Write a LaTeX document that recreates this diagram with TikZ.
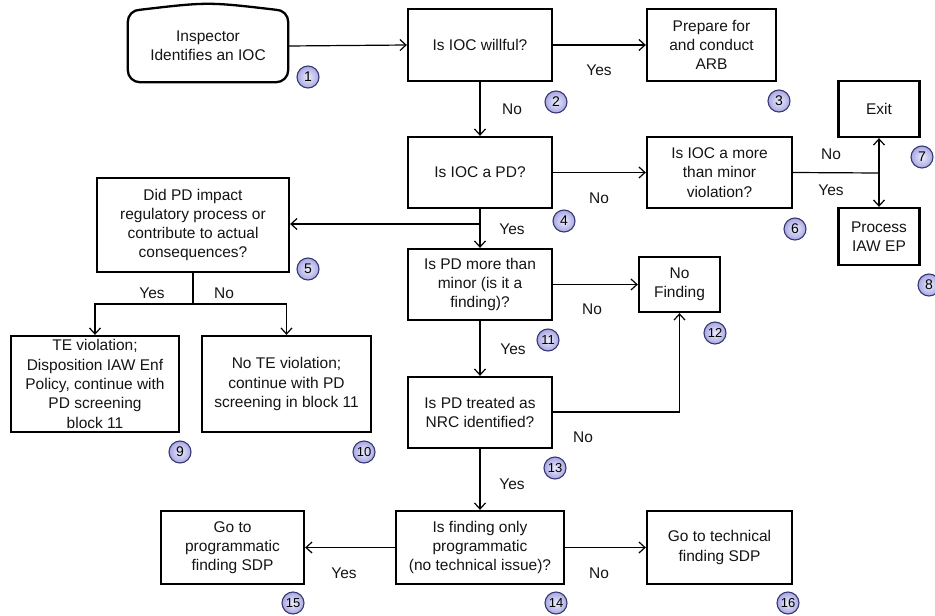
\documentclass[tikz,border=0pt]{standalone}
\usepackage{fontspec}
\setmainfont{Liberation Sans}
\usetikzlibrary{arrows.meta}
\definecolor{txt}{RGB}{20,20,20}
\definecolor{circfill}{RGB}{168,168,226}
\definecolor{circin}{RGB}{236,236,252}
\definecolor{circline}{RGB}{55,55,115}
\tikzset{
  boxnode/.style={draw=black, line width=2.3pt, minimum width=#1, align=center, inner sep=2pt,
    font=\fontsize{15.5}{19.3}\selectfont, text=txt},
  boxnode/.default=144pt,
  plainnode/.style={draw=none, align=center, inner sep=2pt,
    font=\fontsize{15.5}{19.3}\selectfont, text=txt},
  conn/.style={line width=1.2pt, draw=black},
  arr/.style={conn, -{Straight Barb[length=6pt,width=11pt,line width=1.2pt]}},
  lbl/.style={font=\fontsize{15.5}{19}\selectfont, text=txt, inner sep=0pt},
  numc/.style={circle, draw=circline, line width=1.1pt, inner color=circin, outer color=circfill,
    minimum size=22pt, inner sep=0pt, font=\fontsize{14}{14}\selectfont, text=black},
  numw/.style={numc, font=\fontsize{13}{13}\selectfont}
}
\begin{document}
\begin{tikzpicture}[x=1pt,y=-1pt]
\useasboundingbox (0,0) rectangle (935,616);
% nodes
\node[plainnode, minimum width=160pt, minimum height=72pt] (n1) at (208,46) {Inspector\\Identifies an IOC};
\draw[line width=2.3pt, line join=round]
  ([xshift=12pt]n1.north west) .. controls ([yshift=8pt]n1.north) .. ([xshift=-12pt]n1.north east)
  to[out=0,in=90] ([yshift=-12pt]n1.north east) -- ([yshift=12pt]n1.south east)
  to[out=-90,in=0] ([xshift=-12pt]n1.south east) -- ([xshift=12pt]n1.south west)
  to[out=180,in=-90] ([yshift=12pt]n1.south west) -- ([yshift=-12pt]n1.north west)
  to[out=90,in=180] ([xshift=12pt]n1.north west) -- cycle;
\node[boxnode=144pt, minimum height=72pt] (n2) at (480,45) {Is IOC willful?};
\node[boxnode=129pt, minimum height=72pt] (n3) at (711.5,45) {Prepare for\\and conduct\\ARB};
\node[boxnode=144pt, minimum height=71pt] (n4) at (480,172.5) {Is IOC a PD?};
\node[boxnode=145pt, minimum height=71pt] (n6) at (719.5,172.5) {Is IOC a more\\than minor\\violation?};
\node[boxnode=81pt, minimum height=56pt] (n7) at (879,109) {Exit};
\node[boxnode=81pt, minimum height=57pt] (n8) at (879,236.5) {Process\\IAW EP};
\node[boxnode=192pt, minimum height=94pt] (n5) at (193,225) {Did PD impact\\regulatory process or\\contribute to actual\\consequences?};
\node[boxnode=168pt, minimum height=96pt] (n9) at (95,384) {TE violation;\\Disposition IAW Enf\\Policy, continue with\\PD screening\\block 11};
\node[boxnode=169pt, minimum height=96pt] (n10) at (286.5,384) {No TE violation;\\continue with PD\\screening in block 11};
\node[boxnode=144pt, minimum height=71pt] (n11) at (480,284.5) {Is PD more than\\minor (is it a\\finding)?};
\node[boxnode=81pt, minimum height=55pt] (n12) at (679.5,284.5) {No\\Finding};
\node[boxnode=144pt, minimum height=71pt] (n13) at (480,412.5) {Is PD treated as\\NRC identified?};
\node[boxnode=168pt, minimum height=73pt] (n14) at (480,547.5) {Is finding only\\programmatic\\(no technical issue)?};
\node[boxnode=143pt, minimum height=73pt] (n15) at (232.5,547.5) {Go to\\programmatic\\finding SDP};
\node[boxnode=145pt, minimum height=73pt] (n16) at (719.5,547.5) {Go to technical\\finding SDP};
% junction coordinates
\coordinate (j6) at (879,173);
\coordinate (j4) at (480,224);
\coordinate (j5) at (193,304);
\coordinate (j13) at (679.5,412);
% connectors
\draw[arr] (n1.east) -- (n2.west);
\draw[arr] (n2.east) -- (n3.west);
\draw[arr] (n2.south) -- (n4.north);
\draw[arr] (n4.east) -- (n6.west);
\draw[conn] (n6.east) -- (j6);
\draw[arr] (j6) -- (n7.south);
\draw[arr] (j6) -- (n8.north);
\draw[arr] (n4.south) -- (n11.north);
\draw[arr] (j4) -- (j4 -| n5.east);
\draw[conn] (n5.south) -- (j5);
\draw[arr] (j5) -| (n9.north);
\draw[arr] (j5) -| (n10.north);
\draw[arr] (n11.east) -- (n12.west);
\draw[arr] (n11.south) -- (n13.north);
\draw[arr] (n13.east |- j13) -- (j13) -- (n12.south);
\draw[arr] (n13.south) -- (n14.north);
\draw[arr] (n14.west) -- (n15.east);
\draw[arr] (n14.east) -- (n16.west);
% labels
\node[lbl] (l1) at (599,70) {Yes};
\node[lbl] (l2) at (512,109) {No};
\node[lbl] (l3) at (599,198) {No};
\node[lbl] (l4) at (831,154) {No};
\node[lbl] (l5) at (831,190) {Yes};
\node[lbl] (l6) at (512,229) {Yes};
\node[lbl] (l7) at (152,293) {Yes};
\node[lbl] (l8) at (224,293) {No};
\node[lbl] (l9) at (592,309) {No};
\node[lbl] (l10) at (513,349) {Yes};
\node[lbl] (l11) at (583,437) {No};
\node[lbl] (l12) at (512,484) {Yes};
\node[lbl] (l13) at (344,573) {Yes};
\node[lbl] (l14) at (599,573) {No};
% numbered circles
\node[numc] (c1) at (308,77) {1};
\node[numc] (c2) at (556,102) {2};
\node[numc] (c3) at (779,101) {3};
\node[numc] (c4) at (564,221) {4};
\node[numc] (c5) at (308,269) {5};
\node[numc] (c6) at (795,229) {6};
\node[numc] (c7) at (922,157) {7};
\node[numc] (c8) at (929,285) {8};
\node[numc] (c9) at (180,452) {9};
\node[numw] (c10) at (364,452) {10};
\node[numw] (c11) at (548,340) {11};
\node[numw] (c12) at (715,333) {12};
\node[numw] (c13) at (555,468) {13};
\node[numw] (c14) at (556,603) {14};
\node[numw] (c15) at (293,603) {15};
\node[numw] (c16) at (788,603) {16};
\end{tikzpicture}
\end{document}
